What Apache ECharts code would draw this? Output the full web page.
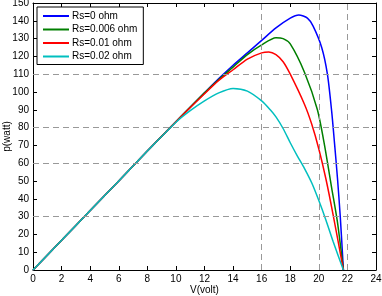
<!DOCTYPE html>
<html>
<head>
<meta charset="utf-8">
<script src="https://cdn.jsdelivr.net/npm/echarts@6/dist/echarts.min.js"></script>
<style>
  html, body { margin: 0; padding: 0; background: #fff; }
  #chart { width: 382px; height: 296px; }
</style>
</head>
<body>
<div id="chart"></div>
<script>
// P-V curves
var names = ['Rs=0 ohm', 'Rs=0.006 ohm', 'Rs=0.01 ohm', 'Rs=0.02 ohm'];
var colors = ['#0000ff', '#007f00', '#ff0000', '#00bfbf'];

var vBlue = [0, 2, 4, 6, 8, 10, 12, 13, 14, 15, 16, 17, 18, 18.6, 19.2, 19.6, 20.2, 20.6, 20.9, 21.1, 21.3, 21.5, 21.72];
var pBlue = [0, 16.7, 33.4, 50, 66.8, 83.3, 99.5, 107.5, 115, 122, 129, 136, 141.5, 143.3, 141.5, 137, 125, 110, 89, 71, 52, 30, 0];

var vGreen = [0, 2, 4, 6, 8, 10, 12, 13, 14, 15, 16, 17, 17.5, 18, 19, 19.9, 20.4, 20.9, 21.3, 21.72];
var pGreen = [0, 16.7, 33.4, 50, 66.8, 83.3, 99.5, 107, 114, 121, 126.5, 130.5, 130, 127, 111, 90, 70, 46, 27, 0];

var vRed = [0, 2, 4, 6, 8, 10, 12, 13, 14, 15, 16, 16.5, 17, 17.5, 18, 19, 19.5, 20, 20.5, 21, 21.72];
var pRed = [0, 16.7, 33.4, 50, 66.8, 83.3, 99, 106.5, 112.5, 118.5, 122, 122.5, 121, 117, 110, 93, 82, 68, 51, 31, 0];

var vCyan = [0, 2, 4, 6, 8, 10, 11, 12, 13, 14, 15, 16, 16.6, 17, 17.5, 18, 18.5, 19, 19.5, 20, 20.5, 21, 21.72];
var pCyan = [0, 16.7, 33.4, 50, 66.8, 83, 89.5, 95, 99.5, 102, 100.5, 95, 90, 86, 79.5, 71.5, 64, 57, 49, 39, 28, 16, 0];

var vGuides = [16, 20, 22];
var pGuides = [30, 60, 80, 110];

function pairs(v, p) {
    return v.map(function (x, i) { return [x, p[i]]; });
}

var curves = [pairs(vBlue, pBlue), pairs(vGreen, pGreen), pairs(vRed, pRed), pairs(vCyan, pCyan)];

var font = 'Liberation Sans, Arial, sans-serif';
var axisCommon = {
    axisLine: { show: true, onZero: false, lineStyle: { color: '#000', width: 1 } },
    axisTick: { show: true, inside: true, length: 4, lineStyle: { color: '#000' } },
    splitLine: { show: false }
};

var guideLines = vGuides.map(function (x) { return { xAxis: x }; })
    .concat(pGuides.map(function (y) { return { yAxis: y }; }));

var series = curves.map(function (d, i) {
    return {
        name: names[i],
        type: 'line',
        data: d,
        smooth: 0.25,
        symbol: 'none',
        lineStyle: { color: colors[i], width: 1.5 },
        itemStyle: { color: colors[i] },
        z: 3
    };
});
series.unshift({
    type: 'line',
    data: [],
    silent: true,
    markLine: {
        silent: true,
        symbol: 'none',
        label: { show: false },
        lineStyle: { color: '#999', type: [6, 4], width: 1 },
        data: guideLines
    }
});

var chart = echarts.init(document.getElementById('chart'));
chart.setOption({
    animation: false,
    backgroundColor: '#fff',
    grid: { left: 33, right: 6, top: 3, bottom: 26, containLabel: false, outerBoundsMode: 'none' },
    legend: {
        data: names.map(function (n) { return { name: n, icon: 'rect' }; }),
        orient: 'vertical',
        left: 37,
        top: 7,
        itemWidth: 26,
        itemHeight: 2,
        itemGap: 3.5,
        padding: [4, 6, 3, 6],
        backgroundColor: '#fff',
        borderColor: '#000',
        borderWidth: 1,
        borderRadius: 0,
        textStyle: { fontFamily: font, fontSize: 10, color: '#000', lineHeight: 10, padding: [0, 0, 0, -2] }
    },
    xAxis: [
        Object.assign({
            type: 'value', min: 0, max: 24, interval: 2,
            name: 'V(volt)', nameLocation: 'middle', nameGap: 15, nameMoveOverlap: false,
            nameTextStyle: { fontFamily: font, fontSize: 10, color: '#000' },
            axisLabel: { fontFamily: font, fontSize: 10, color: '#000', margin: 4 }
        }, axisCommon),
        Object.assign({
            type: 'value', min: 0, max: 24, interval: 2, position: 'top',
            axisLabel: { show: false }
        }, axisCommon)
    ],
    yAxis: [
        Object.assign({
            type: 'value', min: 0, max: 150, interval: 10,
            name: 'p(watt)', nameLocation: 'middle', nameGap: 21, nameMoveOverlap: false,
            nameTextStyle: { fontFamily: font, fontSize: 10, color: '#000' },
            axisLabel: { fontFamily: font, fontSize: 10, color: '#000', margin: 4 }
        }, axisCommon),
        Object.assign({
            type: 'value', min: 0, max: 150, interval: 10, position: 'right',
            axisLabel: { show: false }
        }, axisCommon)
    ],
    series: series
});
</script>
</body>
</html>
